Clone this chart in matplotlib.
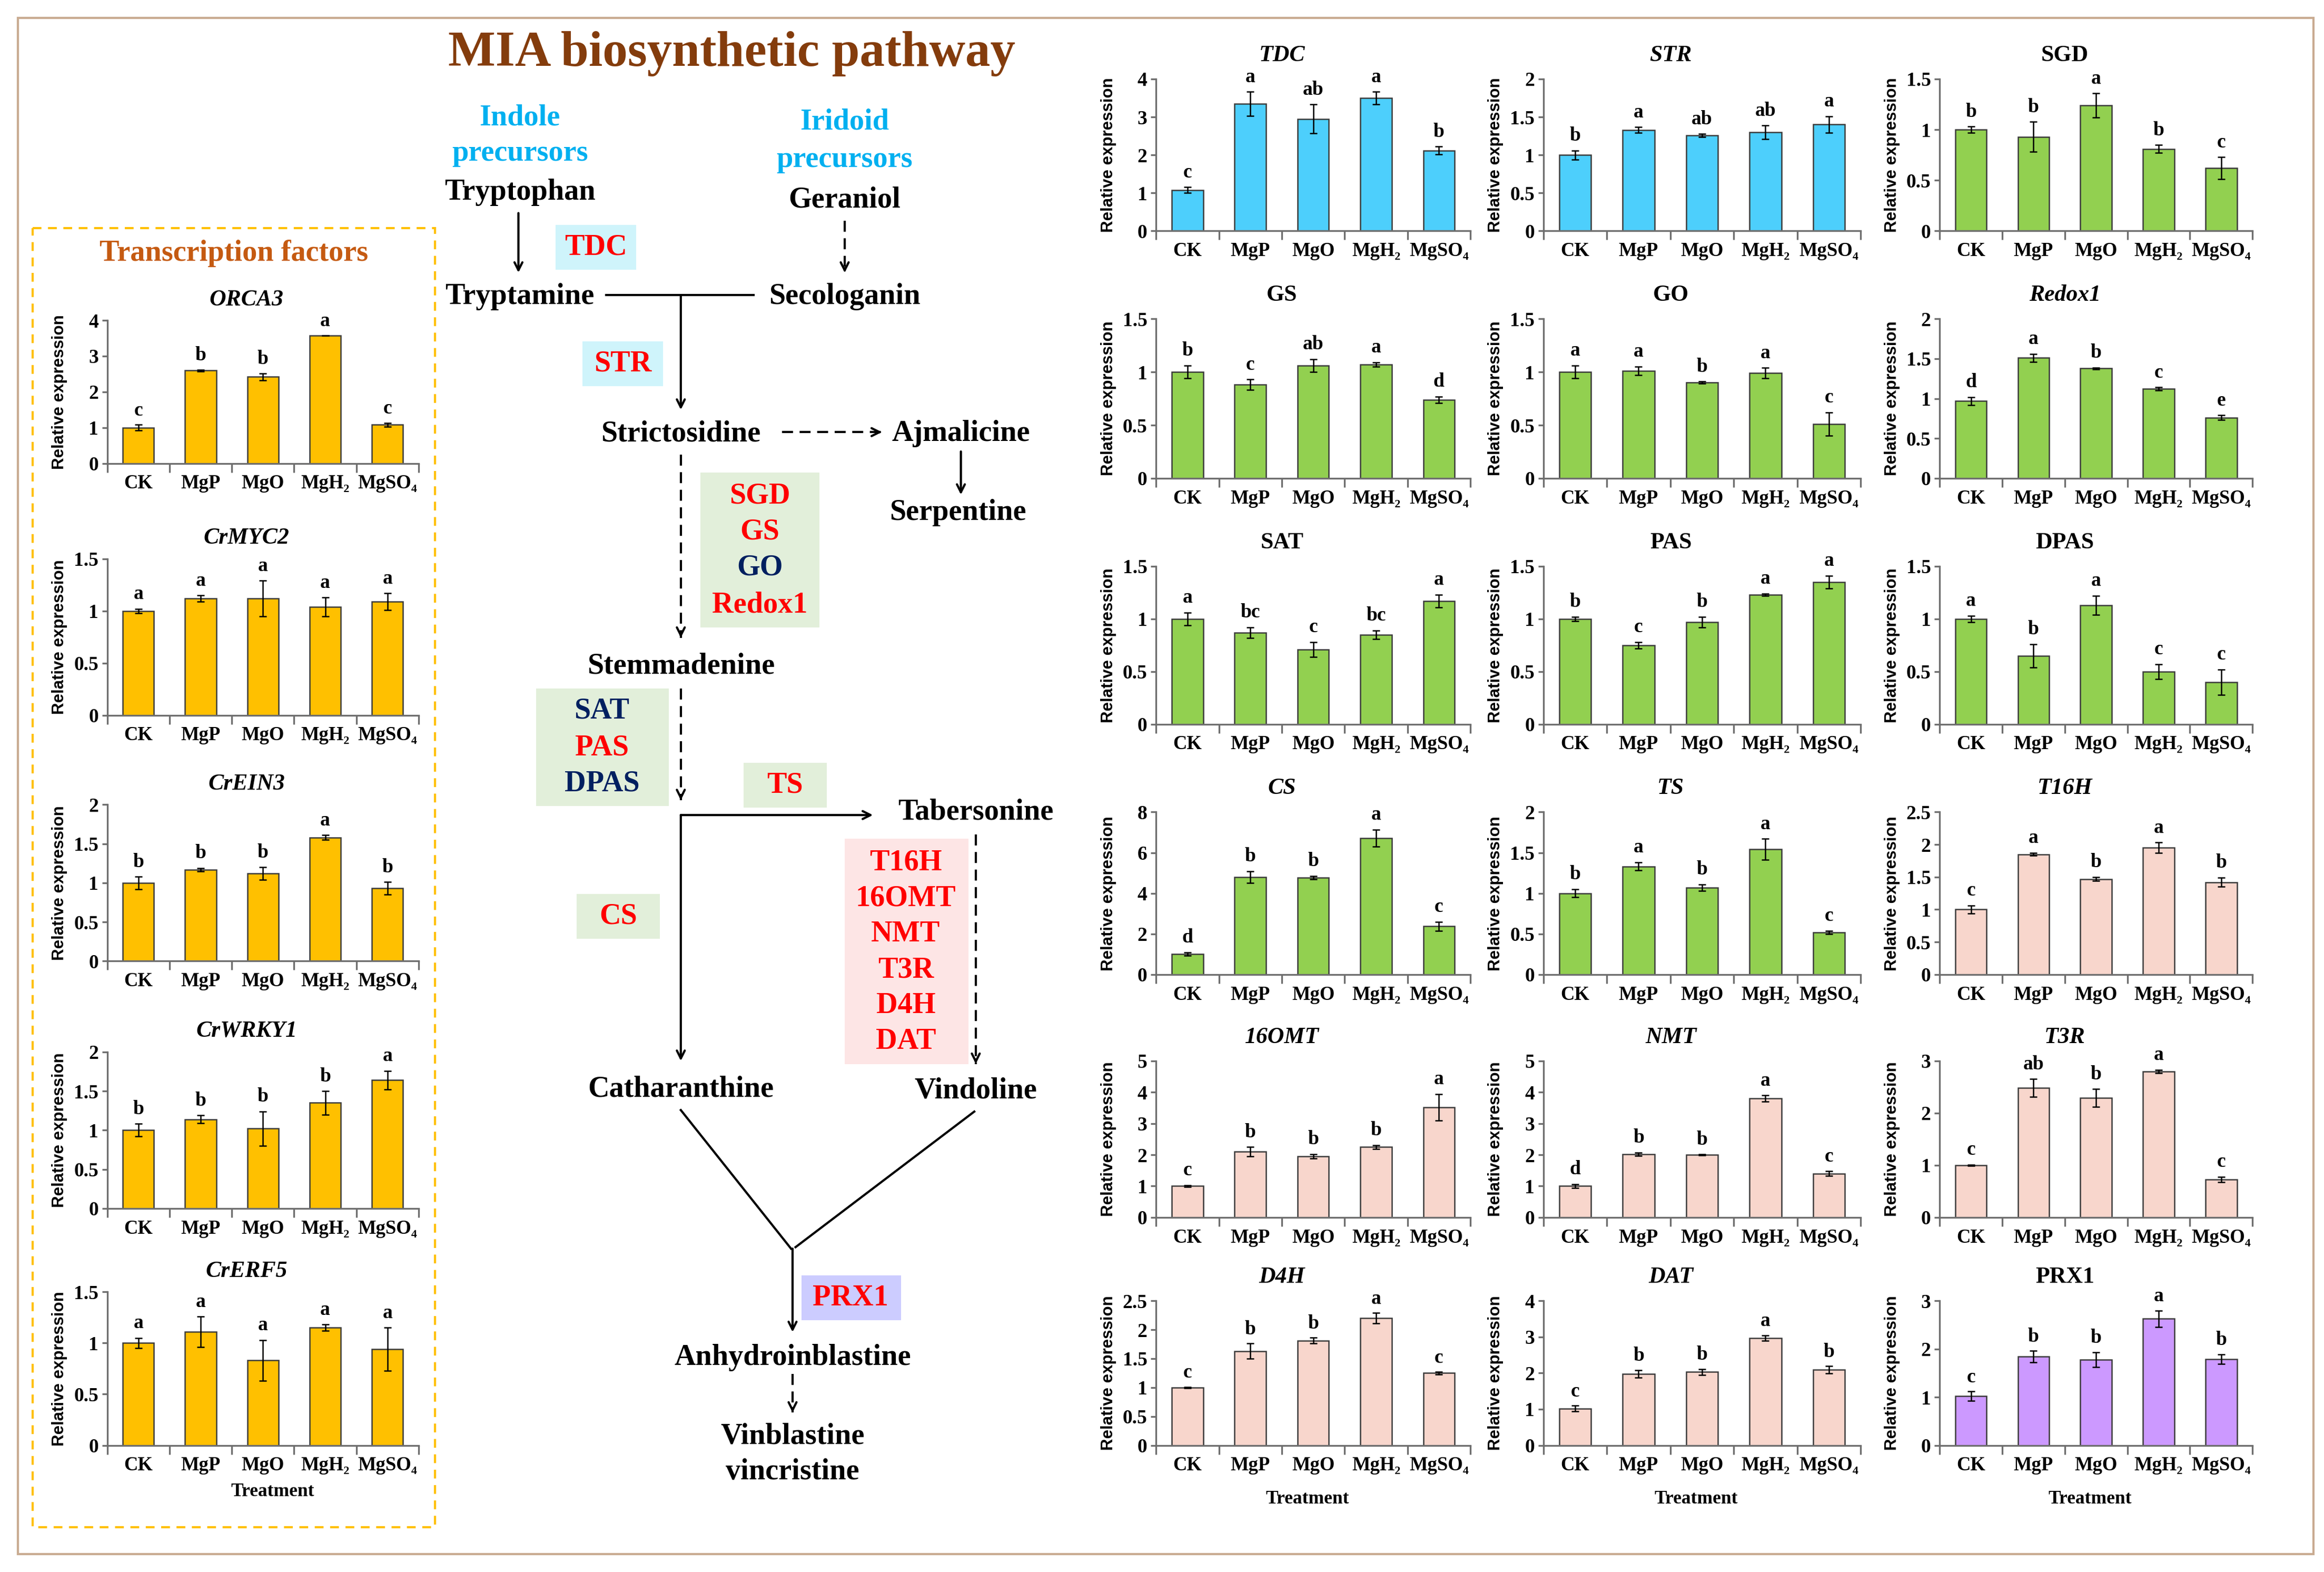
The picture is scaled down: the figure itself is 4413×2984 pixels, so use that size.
import numpy as np
import matplotlib.pyplot as plt
from matplotlib.patches import Rectangle

plt.rcParams['font.family'] = ['Liberation Serif', 'DejaVu Serif']
plt.rcParams['font.weight'] = 'bold'
SANS = ['Liberation Sans', 'DejaVu Sans']

treatments = ['CK', 'MgP', 'MgO', 'MgH₂', 'MgSO₄']

# transcription factors (left box)
orca3 = [1.00, 2.60, 2.42, 3.58, 1.08]
orca3_sd = [0.08, 0.02, 0.10, 0.00, 0.05]
orca3_sig = ['c', 'b', 'b', 'a', 'c']
crmyc2 = [1.00, 1.12, 1.12, 1.04, 1.09]
crmyc2_sd = [0.02, 0.03, 0.17, 0.09, 0.08]
crmyc2_sig = ['a', 'a', 'a', 'a', 'a']
crein3 = [1.00, 1.17, 1.12, 1.58, 0.93]
crein3_sd = [0.08, 0.02, 0.08, 0.03, 0.08]
crein3_sig = ['b', 'b', 'b', 'a', 'b']
crwrky1 = [1.00, 1.14, 1.02, 1.35, 1.64]
crwrky1_sd = [0.08, 0.05, 0.22, 0.15, 0.12]
crwrky1_sig = ['b', 'b', 'b', 'b', 'a']
crerf5 = [1.00, 1.11, 0.83, 1.15, 0.94]
crerf5_sd = [0.05, 0.15, 0.20, 0.03, 0.21]
crerf5_sig = ['a', 'a', 'a', 'a', 'a']

# pathway genes
tdc = [1.08, 3.35, 2.95, 3.50, 2.12]
tdc_sd = [0.08, 0.32, 0.38, 0.16, 0.10]
tdc_sig = ['c', 'a', 'ab', 'a', 'b']
strg = [1.00, 1.33, 1.26, 1.30, 1.40]
strg_sd = [0.06, 0.04, 0.02, 0.09, 0.11]
strg_sig = ['b', 'a', 'ab', 'ab', 'a']
sgd = [1.00, 0.93, 1.24, 0.81, 0.62]
sgd_sd = [0.03, 0.15, 0.12, 0.04, 0.11]
sgd_sig = ['b', 'b', 'a', 'b', 'c']
gs = [1.00, 0.88, 1.06, 1.07, 0.74]
gs_sd = [0.06, 0.05, 0.06, 0.02, 0.03]
gs_sig = ['b', 'c', 'ab', 'a', 'd']
go = [1.00, 1.01, 0.90, 0.99, 0.51]
go_sd = [0.06, 0.04, 0.01, 0.05, 0.11]
go_sig = ['a', 'a', 'b', 'a', 'c']
redox1 = [0.97, 1.51, 1.38, 1.12, 0.76]
redox1_sd = [0.05, 0.05, 0.01, 0.02, 0.03]
redox1_sig = ['d', 'a', 'b', 'c', 'e']
sat = [1.00, 0.87, 0.71, 0.85, 1.17]
sat_sd = [0.06, 0.05, 0.07, 0.04, 0.06]
sat_sig = ['a', 'bc', 'c', 'bc', 'a']
pas = [1.00, 0.75, 0.97, 1.23, 1.35]
pas_sd = [0.02, 0.03, 0.05, 0.01, 0.06]
pas_sig = ['b', 'c', 'b', 'a', 'a']
dpas = [1.00, 0.65, 1.13, 0.50, 0.40]
dpas_sd = [0.03, 0.11, 0.09, 0.07, 0.12]
dpas_sig = ['a', 'b', 'a', 'c', 'c']
cs = [1.00, 4.80, 4.78, 6.72, 2.38]
cs_sd = [0.08, 0.28, 0.08, 0.42, 0.22]
cs_sig = ['d', 'b', 'b', 'a', 'c']
ts = [1.00, 1.33, 1.07, 1.54, 0.52]
ts_sd = [0.05, 0.05, 0.04, 0.13, 0.02]
ts_sig = ['b', 'a', 'b', 'a', 'c']
t16h = [1.00, 1.85, 1.47, 1.95, 1.42]
t16h_sd = [0.06, 0.02, 0.03, 0.08, 0.07]
t16h_sig = ['c', 'a', 'b', 'a', 'b']
omt16 = [1.00, 2.10, 1.95, 2.25, 3.52]
omt16_sd = [0.03, 0.15, 0.07, 0.06, 0.42]
omt16_sig = ['c', 'b', 'b', 'b', 'a']
nmt = [1.00, 2.02, 2.00, 3.80, 1.40]
nmt_sd = [0.06, 0.05, 0.01, 0.10, 0.08]
nmt_sig = ['d', 'b', 'b', 'a', 'c']
t3r = [1.00, 2.48, 2.29, 2.80, 0.73]
t3r_sd = [0.01, 0.17, 0.17, 0.03, 0.05]
t3r_sig = ['c', 'ab', 'b', 'a', 'c']
d4h = [1.00, 1.63, 1.81, 2.20, 1.25]
d4h_sd = [0.01, 0.13, 0.05, 0.09, 0.02]
d4h_sig = ['c', 'b', 'b', 'a', 'c']
dat = [1.02, 1.98, 2.03, 2.97, 2.09]
dat_sd = [0.08, 0.10, 0.08, 0.07, 0.10]
dat_sig = ['c', 'b', 'b', 'a', 'b']
prx1 = [1.02, 1.84, 1.78, 2.63, 1.79]
prx1_sd = [0.10, 0.12, 0.15, 0.17, 0.10]
prx1_sig = ['c', 'b', 'b', 'a', 'b']

YELLOW = '#ffc000'
CYAN = '#4dcffc'
GREEN = '#92d050'
PINK = '#f8d6cc'
PURPLE = '#cc99ff'

# (title, italic, mean, sd, letters, ymax, step, colour)
left_panels = [
    ('ORCA3', True, orca3, orca3_sd, orca3_sig, 4, 1, YELLOW),
    ('CrMYC2', True, crmyc2, crmyc2_sd, crmyc2_sig, 1.5, 0.5, YELLOW),
    ('CrEIN3', True, crein3, crein3_sd, crein3_sig, 2, 0.5, YELLOW),
    ('CrWRKY1', True, crwrky1, crwrky1_sd, crwrky1_sig, 2, 0.5, YELLOW),
    ('CrERF5', True, crerf5, crerf5_sd, crerf5_sig, 1.5, 0.5, YELLOW),
]
right_panels = [
    [('TDC', True, tdc, tdc_sd, tdc_sig, 4, 1, CYAN),
     ('STR', True, strg, strg_sd, strg_sig, 2, 0.5, CYAN),
     ('SGD', False, sgd, sgd_sd, sgd_sig, 1.5, 0.5, GREEN)],
    [('GS', False, gs, gs_sd, gs_sig, 1.5, 0.5, GREEN),
     ('GO', False, go, go_sd, go_sig, 1.5, 0.5, GREEN),
     ('Redox1', True, redox1, redox1_sd, redox1_sig, 2, 0.5, GREEN)],
    [('SAT', False, sat, sat_sd, sat_sig, 1.5, 0.5, GREEN),
     ('PAS', False, pas, pas_sd, pas_sig, 1.5, 0.5, GREEN),
     ('DPAS', False, dpas, dpas_sd, dpas_sig, 1.5, 0.5, GREEN)],
    [('CS', True, cs, cs_sd, cs_sig, 8, 2, GREEN),
     ('TS', True, ts, ts_sd, ts_sig, 2, 0.5, GREEN),
     ('T16H', True, t16h, t16h_sd, t16h_sig, 2.5, 0.5, PINK)],
    [('16OMT', True, omt16, omt16_sd, omt16_sig, 5, 1, PINK),
     ('NMT', True, nmt, nmt_sd, nmt_sig, 5, 1, PINK),
     ('T3R', True, t3r, t3r_sd, t3r_sig, 3, 1, PINK)],
    [('D4H', True, d4h, d4h_sd, d4h_sig, 2.5, 0.5, PINK),
     ('DAT', True, dat, dat_sd, dat_sig, 4, 1, PINK),
     ('PRX1', False, prx1, prx1_sd, prx1_sig, 3, 1, PURPLE)],
]

# layout grid in reference pixels (1560 x 1055)
W, H = 1560.0, 1055.0
left_x = (72, 281)
left_rows = [(215, 311), (375, 480), (540, 645), (706, 811), (867, 970)]
right_cols = [(776, 987), (1036, 1249), (1302, 1512)]
right_rows = [(53, 155), (214, 321), (380, 486), (545, 654), (712, 817), (873, 970)]

fig = plt.figure(figsize=(4413 / 300, 2984 / 300), dpi=300)

# overlay for the pathway drawing and frames
ov = fig.add_axes([0, 0, 1, 1])
ov.set_xlim(0, W)
ov.set_ylim(H, 0)
ov.axis('off')

ov.add_patch(Rectangle((12, 12), 1541, 1031, fill=False, edgecolor='#c9ab91', lw=1.0))
ov.add_patch(Rectangle((22, 153), 270, 872, fill=False, edgecolor='#ffc000', lw=1.0,
                       linestyle=(0, (4, 3))))
ov.text(157, 170, 'Transcription factors', ha='center', va='center', fontsize=13.5,
        color='#c55a11')


def bar_panel(xr, yr, panel, title_dy, title_dx):
    title, italic, mean, sd, sig, ymax, step, color = panel
    x0, x1 = xr
    ytop, ybot = yr
    ax = fig.add_axes([x0 / W, 1 - ybot / H, (x1 - x0) / W, (ybot - ytop) / H])
    ax.set_facecolor('none')
    xs = np.arange(len(treatments))
    ax.bar(xs, mean, 0.5, color=color, edgecolor='#3a3a3a', linewidth=0.6, zorder=2)
    ax.errorbar(xs, mean, yerr=sd, fmt='none', ecolor='black', elinewidth=0.6,
                capsize=1.6, capthick=0.6, zorder=3)
    for x, m, s, l in zip(xs, mean, sd, sig):
        ax.text(x, m + s + 0.035 * ymax, l, ha='center', va='bottom', fontsize=9)
    ax.set_xlim(-0.5, 4.5)
    ax.set_ylim(0, ymax)
    yt = np.arange(0, ymax + step / 2, step)
    ax.set_yticks(yt)
    ax.set_yticklabels([f'{v:g}' for v in yt])
    ax.set_xticks(xs)
    ax.set_xticklabels(treatments)
    ax.set_xticks(np.arange(-0.5, 5, 1), minor=True)
    ax.tick_params(axis='x', which='major', length=0, pad=5, labelsize=8.8)
    ax.tick_params(axis='x', which='minor', length=4, width=0.8, color='#6e6e6e', direction='out')
    ax.tick_params(axis='y', length=2.5, width=0.8, color='#6e6e6e', pad=1.5, labelsize=9)
    for side in ['top', 'right']:
        ax.spines[side].set_visible(False)
    for side in ['left', 'bottom']:
        ax.spines[side].set_color('#6e6e6e')
        ax.spines[side].set_linewidth(0.8)
    ov.text((x0 + x1) / 2 + title_dx, ytop - title_dy, title, ha='center', va='center',
            fontsize=10.5, style='italic' if italic else 'normal')
    ov.text(x0 - 32, (ytop + ybot) / 2, 'Relative expression', rotation=90,
            ha='center', va='center', fontsize=7.5, family=SANS)
    return ax


for yr, panel in zip(left_rows, left_panels):
    bar_panel(left_x, yr, panel, 14, -11)
ov.text(183, 1001, 'Treatment', ha='center', va='center', fontsize=8.5)

for yr, row in zip(right_rows, right_panels):
    for xr, panel in zip(right_cols, row):
        bar_panel(xr, yr, panel, 16, -21)
for xr in right_cols:
    ov.text((xr[0] + xr[1]) / 2 - 4, 1006, 'Treatment', ha='center', va='center', fontsize=8.5)

# ---- pathway diagram ----
RED = '#ff0000'
NAVY = '#002060'
SKY = '#00b0f0'


def label(x, y, s, color='black', size=13.5):
    ov.text(x, y, s, ha='center', va='center', fontsize=size, color=color)


def box(x0, y0, x1, y1, color):
    ov.add_patch(Rectangle((x0, y0), x1 - x0, y1 - y0, facecolor=color, edgecolor='none'))


def arrow(x1, y1, x2, y2, dashed=False):
    if dashed:
        ov.plot([x1, x2], [y1, y2], color='black', lw=1.0, linestyle=(0, (5, 3)))
        d = np.array([x2 - x1, y2 - y1], dtype=float)
        d /= np.hypot(*d)
        x1, y1 = x2 - 3 * d[0], y2 - 3 * d[1]
    ov.annotate('', xy=(x2, y2), xytext=(x1, y1),
                arrowprops=dict(arrowstyle='->', color='black', lw=1.0,
                                shrinkA=0, shrinkB=0, mutation_scale=9))


ov.text(491, 36, 'MIA biosynthetic pathway', ha='center', va='center', fontsize=22.8,
        color='#843c0c')
label(349, 79, 'Indole', SKY)
label(349, 103, 'precursors', SKY)
label(567, 82, 'Iridoid', SKY)
label(567, 107, 'precursors', SKY)
label(349, 129, 'Tryptophan')
label(567, 134, 'Geraniol')
arrow(348, 143, 348, 183)
box(373, 151, 427, 181, '#cff4fb')
label(400, 166, 'TDC', RED)
arrow(567, 148, 567, 183, dashed=True)
label(349, 199, 'Tryptamine')
label(567, 199, 'Secologanin')
ov.plot([407, 506], [198, 198], color='black', lw=1.0)
arrow(457, 198, 457, 275)
box(391, 229, 445, 259, '#cff4fb')
label(418, 244, 'STR', RED)
label(457, 291, 'Strictosidine')
arrow(525, 290, 592, 290, dashed=True)
label(645, 291, 'Ajmalicine')
arrow(645, 303, 645, 332)
label(643, 344, 'Serpentine')
arrow(457, 305, 457, 428, dashed=True)
box(470, 317, 550, 421, '#e2efda')
label(510, 333, 'SGD', RED)
label(510, 357, 'GS', RED)
label(510, 381, 'GO', NAVY)
label(510, 406, 'Redox1', RED)
label(457, 447, 'Stemmadenine')
box(360, 462, 449, 541, '#e2efda')
label(404, 477, 'SAT', NAVY)
label(404, 502, 'PAS', RED)
label(404, 526, 'DPAS', NAVY)
arrow(457, 462, 457, 537, dashed=True)
box(499, 512, 555, 542, '#e2efda')
label(527, 527, 'TS', RED)
arrow(457, 547, 586, 547)
label(655, 545, 'Tabersonine')
arrow(457, 547, 457, 712)
box(387, 600, 443, 630, '#e2efda')
label(415, 615, 'CS', RED)
box(567, 563, 650, 714, '#fde5e5')
for yy, enz in zip([579, 603, 627, 651, 675, 699], ['T16H', '16OMT', 'NMT', 'T3R', 'D4H', 'DAT']):
    label(608, yy, enz, RED)
arrow(655, 560, 655, 714, dashed=True)
label(457, 731, 'Catharanthine')
label(655, 732, 'Vindoline')
ov.plot([457, 531], [745, 838], color='black', lw=1.0)
ov.plot([654, 534], [746, 837], color='black', lw=1.0)
arrow(532, 838, 532, 894)
box(538, 856, 605, 886, '#ccccff')
label(571, 871, 'PRX1', RED)
label(532, 911, 'Anhydroinblastine')
arrow(532, 922, 532, 948, dashed=True)
label(532, 964, 'Vinblastine')
label(532, 988, 'vincristine')

fig.savefig('out.png', dpi=300, facecolor='white')
